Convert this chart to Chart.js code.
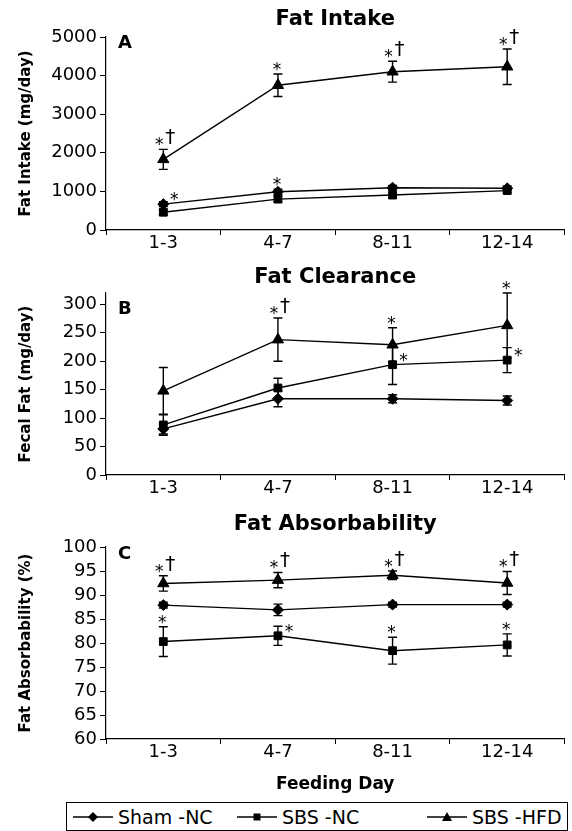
<!DOCTYPE html>
<html><head><meta charset="utf-8">
<script src="https://cdn.jsdelivr.net/npm/chart.js@4.4.0/dist/chart.umd.min.js"></script>
<style>
html,body{margin:0;padding:0;background:#fff;}
body{width:572px;height:831px;overflow:hidden;position:relative;font-family:"DejaVu Sans",sans-serif;}
.cv{position:absolute;left:0;width:572px;}
#legend{position:absolute;left:66px;top:802px;width:502px;height:29px;border:1px solid #000;box-sizing:border-box;}
.item{position:absolute;top:0;height:27px;display:flex;align-items:center;font-size:19px;color:#000;white-space:nowrap;}
.item svg{margin-right:5px;}
</style></head><body>
<div class="cv" style="top:0;height:262px"><canvas id="cA"></canvas></div>
<div class="cv" style="top:262px;height:248px"><canvas id="cB"></canvas></div>
<div class="cv" style="top:510px;height:290px"><canvas id="cC"></canvas></div>
<div id="legend">
  <div class="item" style="left:6px"><svg width="40" height="14"><line x1="0" y1="7" x2="40" y2="7" stroke="#000" stroke-width="1.5"/><polygon points="20,2 25,7 20,12 15,7" fill="#000"/></svg>Sham -NC</div>
  <div class="item" style="left:170px"><svg width="40" height="14"><line x1="0" y1="7" x2="40" y2="7" stroke="#000" stroke-width="1.5"/><rect x="16.5" y="3.5" width="7" height="7" fill="#000"/></svg>SBS -NC</div>
  <div class="item" style="left:360px"><svg width="40" height="14"><line x1="0" y1="7" x2="40" y2="7" stroke="#000" stroke-width="1.5"/><polygon points="20,2 25,11 15,11" fill="#000"/></svg>SBS -HFD</div>
</div>
<script>
// ---------- DATA ----------
const days = ['1-3', '4-7', '8-11', '12-14'];
const seriesNames = ['Sham -NC', 'SBS -NC', 'SBS -HFD'];

// Panel A: Fat Intake (mg/day)
const intakeSham = [670, 990, 1095, 1080];
const intakeShamErr = [60, 70, 60, 60];
const intakeSBS = [460, 800, 905, 1020];
const intakeSBSErr = [70, 70, 70, 60];
const intakeHFD = [1830, 3750, 4100, 4230];
const intakeHFDErr = [260, 290, 270, 460];
const intakeTicks = [0, 1000, 2000, 3000, 4000, 5000];
const intakeMarks = [
  ['SBS -HFD', 0, '*†', 'above'], ['SBS -HFD', 1, '*', 'above'],
  ['SBS -HFD', 2, '*†', 'above'], ['SBS -HFD', 3, '*†', 'above'],
  ['Sham -NC', 0, '*', 'right'], ['Sham -NC', 1, '*', 'above']
];

// Panel B: Fecal Fat (mg/day)
const clearSham = [81, 134, 134, 131];
const clearShamErr = [9, 14, 7, 8];
const clearSBS = [88, 153, 194, 202];
const clearSBSErr = [18, 17, 35, 22];
const clearHFD = [148, 238, 229, 263];
const clearHFDErr = [41, 38, 30, 57];
const clearTicks = [0, 50, 100, 150, 200, 250, 300];
const clearAxisMax = 320;
const clearMarks = [
  ['SBS -HFD', 1, '*†', 'above'], ['SBS -HFD', 2, '*', 'above'],
  ['SBS -NC', 2, '*', 'right'], ['SBS -HFD', 3, '*', 'above'],
  ['SBS -NC', 3, '*', 'right']
];

// Panel C: Fat Absorbability (%)
const absSham = [87.9, 86.9, 88.0, 88.0];
const absShamErr = [0.6, 1.2, 0.5, 0.5];
const absSBS = [80.3, 81.5, 78.4, 79.6];
const absSBSErr = [3.1, 2.0, 2.8, 2.3];
const absHFD = [92.4, 93.1, 94.1, 92.5];
const absHFDErr = [1.6, 1.6, 0.9, 2.4];
const absTicks = [60, 65, 70, 75, 80, 85, 90, 95, 100];
const absMarks = [
  ['SBS -HFD', 0, '*†', 'above'], ['SBS -HFD', 1, '*†', 'above'],
  ['SBS -HFD', 2, '*†', 'above'], ['SBS -HFD', 3, '*†', 'above'],
  ['SBS -NC', 0, '*', 'above'], ['SBS -NC', 1, '*', 'right'],
  ['SBS -NC', 2, '*', 'above'], ['SBS -NC', 3, '*', 'above']
];

// ---------- RENDERING ----------
const FONT = '"DejaVu Sans", sans-serif';
Chart.defaults.font.family = FONT;
Chart.defaults.color = '#000';

const overlay = {
  id: 'overlay',
  beforeDatasetsDraw(chart) {
    const ctx = chart.ctx, xs = chart.scales.x, ys = chart.scales.y;
    ctx.save();
    ctx.strokeStyle = '#000'; ctx.lineWidth = 1.4;
    chart.data.datasets.forEach(ds => {
      ds.err.forEach((e, i) => {
        const px = xs.getPixelForValue(i);
        const t = ys.getPixelForValue(ds.data[i] + e), b = ys.getPixelForValue(ds.data[i] - e);
        ctx.beginPath();
        ctx.moveTo(px, t); ctx.lineTo(px, b);
        ctx.moveTo(px - 4.5, t); ctx.lineTo(px + 4.5, t);
        ctx.moveTo(px - 4.5, b); ctx.lineTo(px + 4.5, b);
        ctx.stroke();
      });
    });
    ctx.restore();
  },
  afterDraw(chart, args, o) {
    const ctx = chart.ctx, xs = chart.scales.x, ys = chart.scales.y, ca = chart.chartArea;
    ctx.save();
    ctx.fillStyle = '#000';
    ctx.font = 'bold 21px ' + FONT;
    ctx.textAlign = 'center'; ctx.textBaseline = 'middle';
    ctx.fillText(o.title, (ca.left + ca.right) / 2, o.titleY);
    ctx.font = 'bold 18px ' + FONT;
    ctx.textAlign = 'left'; ctx.textBaseline = 'top';
    ctx.fillText(o.letter, ca.left + 12, o.letterY);
    (o.marks || []).forEach(([name, i, txt, pos]) => {
      const ds = chart.data.datasets.find(d => d.label === name);
      const px = xs.getPixelForValue(i);
      const v = ds.data[i], e = ds.err[i];
      ctx.textBaseline = 'alphabetic'; ctx.textAlign = 'center';
      if (pos === 'above') {
        const top = ys.getPixelForValue(v + e);
        if (txt.length > 1) {
          ctx.font = '17px ' + FONT; ctx.fillText('*', px - 4, top + 1);
          ctx.font = '20px ' + FONT; ctx.fillText('†', px + 7, top - 6);
        } else {
          ctx.font = '17px ' + FONT; ctx.fillText('*', px - 1, top + 1);
        }
      } else {
        const py = ys.getPixelForValue(v);
        ctx.font = '17px ' + FONT; ctx.fillText('*', px + 11, py + 1);
      }
    });
    ctx.restore();
  }
};

function makeChart(id, opts) {
  const styles = [
    { pointStyle: 'rectRot', pointRadius: 5.5 },
    { pointStyle: 'rect', pointRadius: 5.5 },
    { pointStyle: 'triangle', pointRadius: 6.5 }
  ];
  const datasets = opts.series.map((s, k) => ({
    label: seriesNames[k], data: s[0], err: s[1],
    borderColor: '#000', backgroundColor: '#000', borderWidth: 1.4,
    pointBackgroundColor: '#000', pointBorderColor: '#000', pointBorderWidth: 1,
    pointStyle: styles[k].pointStyle, pointRadius: styles[k].pointRadius,
    tension: 0, clip: false
  }));
  const canvasH = opts.canvasH;
  return new Chart(document.getElementById(id), {
    type: 'line',
    data: { labels: days, datasets },
    plugins: [overlay],
    options: {
      responsive: true, maintainAspectRatio: false, animation: false,
      devicePixelRatio: 1,
      layout: { padding: { top: opts.padTop, right: 0, left: 0, bottom: 0 } },
      events: [],
      plugins: {
        legend: { display: false }, tooltip: { enabled: false }, title: { display: false },
        overlay: { title: opts.title, titleY: opts.titleY, letter: opts.letter, letterY: opts.letterY, marks: opts.marks }
      },
      scales: {
        x: {
          type: 'category', offset: true,
          grid: { display: true, drawOnChartArea: false, drawTicks: true, tickLength: 5, color: '#000', offset: true },
          border: { display: true, color: '#000', width: 1.2 },
          ticks: { font: { size: 18 }, color: '#000', padding: -2, maxRotation: 0, autoSkip: false },
          title: opts.xTitle ? { display: true, text: opts.xTitle, font: { size: 17, weight: 'bold' }, color: '#000', padding: { top: 0, bottom: 5 } } : { display: false },
          afterFit: s => { s.height = canvasH - opts.plotBottom; }
        },
        y: {
          min: opts.ticks[0], max: opts.axisMax,
          afterBuildTicks: s => { s.ticks = opts.ticks.map(v => ({ value: v })); },
          grid: { display: true, drawOnChartArea: false, drawTicks: true, tickLength: 6, color: '#000' },
          border: { display: true, color: '#000', width: 1.2 },
          ticks: { font: { size: 18 }, color: '#000', padding: 3, autoSkip: false, callback: v => String(v) },
          title: { display: true, text: opts.yTitle, font: { size: 15, weight: 'bold' }, color: '#000', padding: { top: 17, bottom: 0 } },
          afterFit: s => { s.width = 106; }
        }
      }
    }
  });
}

makeChart('cA', {
  series: [[intakeSham, intakeShamErr], [intakeSBS, intakeSBSErr], [intakeHFD, intakeHFDErr]],
  ticks: intakeTicks, axisMax: 5000, yTitle: 'Fat Intake (mg/day)',
  title: 'Fat Intake', titleY: 20, letter: 'A', letterY: 34, marks: intakeMarks,
  canvasH: 262, padTop: 37, plotBottom: 230
});
makeChart('cB', {
  series: [[clearSham, clearShamErr], [clearSBS, clearSBSErr], [clearHFD, clearHFDErr]],
  ticks: clearTicks, axisMax: clearAxisMax, yTitle: 'Fecal Fat (mg/day)',
  title: 'Fat Clearance', titleY: 16, letter: 'B', letterY: 38, marks: clearMarks,
  canvasH: 248, padTop: 31, plotBottom: 213
});
makeChart('cC', {
  series: [[absSham, absShamErr], [absSBS, absSBSErr], [absHFD, absHFDErr]],
  ticks: absTicks, axisMax: 100, yTitle: 'Fat Absorbability (%)',
  title: 'Fat Absorbability', titleY: 15, letter: 'C', letterY: 35, marks: absMarks,
  canvasH: 290, padTop: 37, plotBottom: 229, xTitle: 'Feeding Day'
});
</script>
</body></html>
